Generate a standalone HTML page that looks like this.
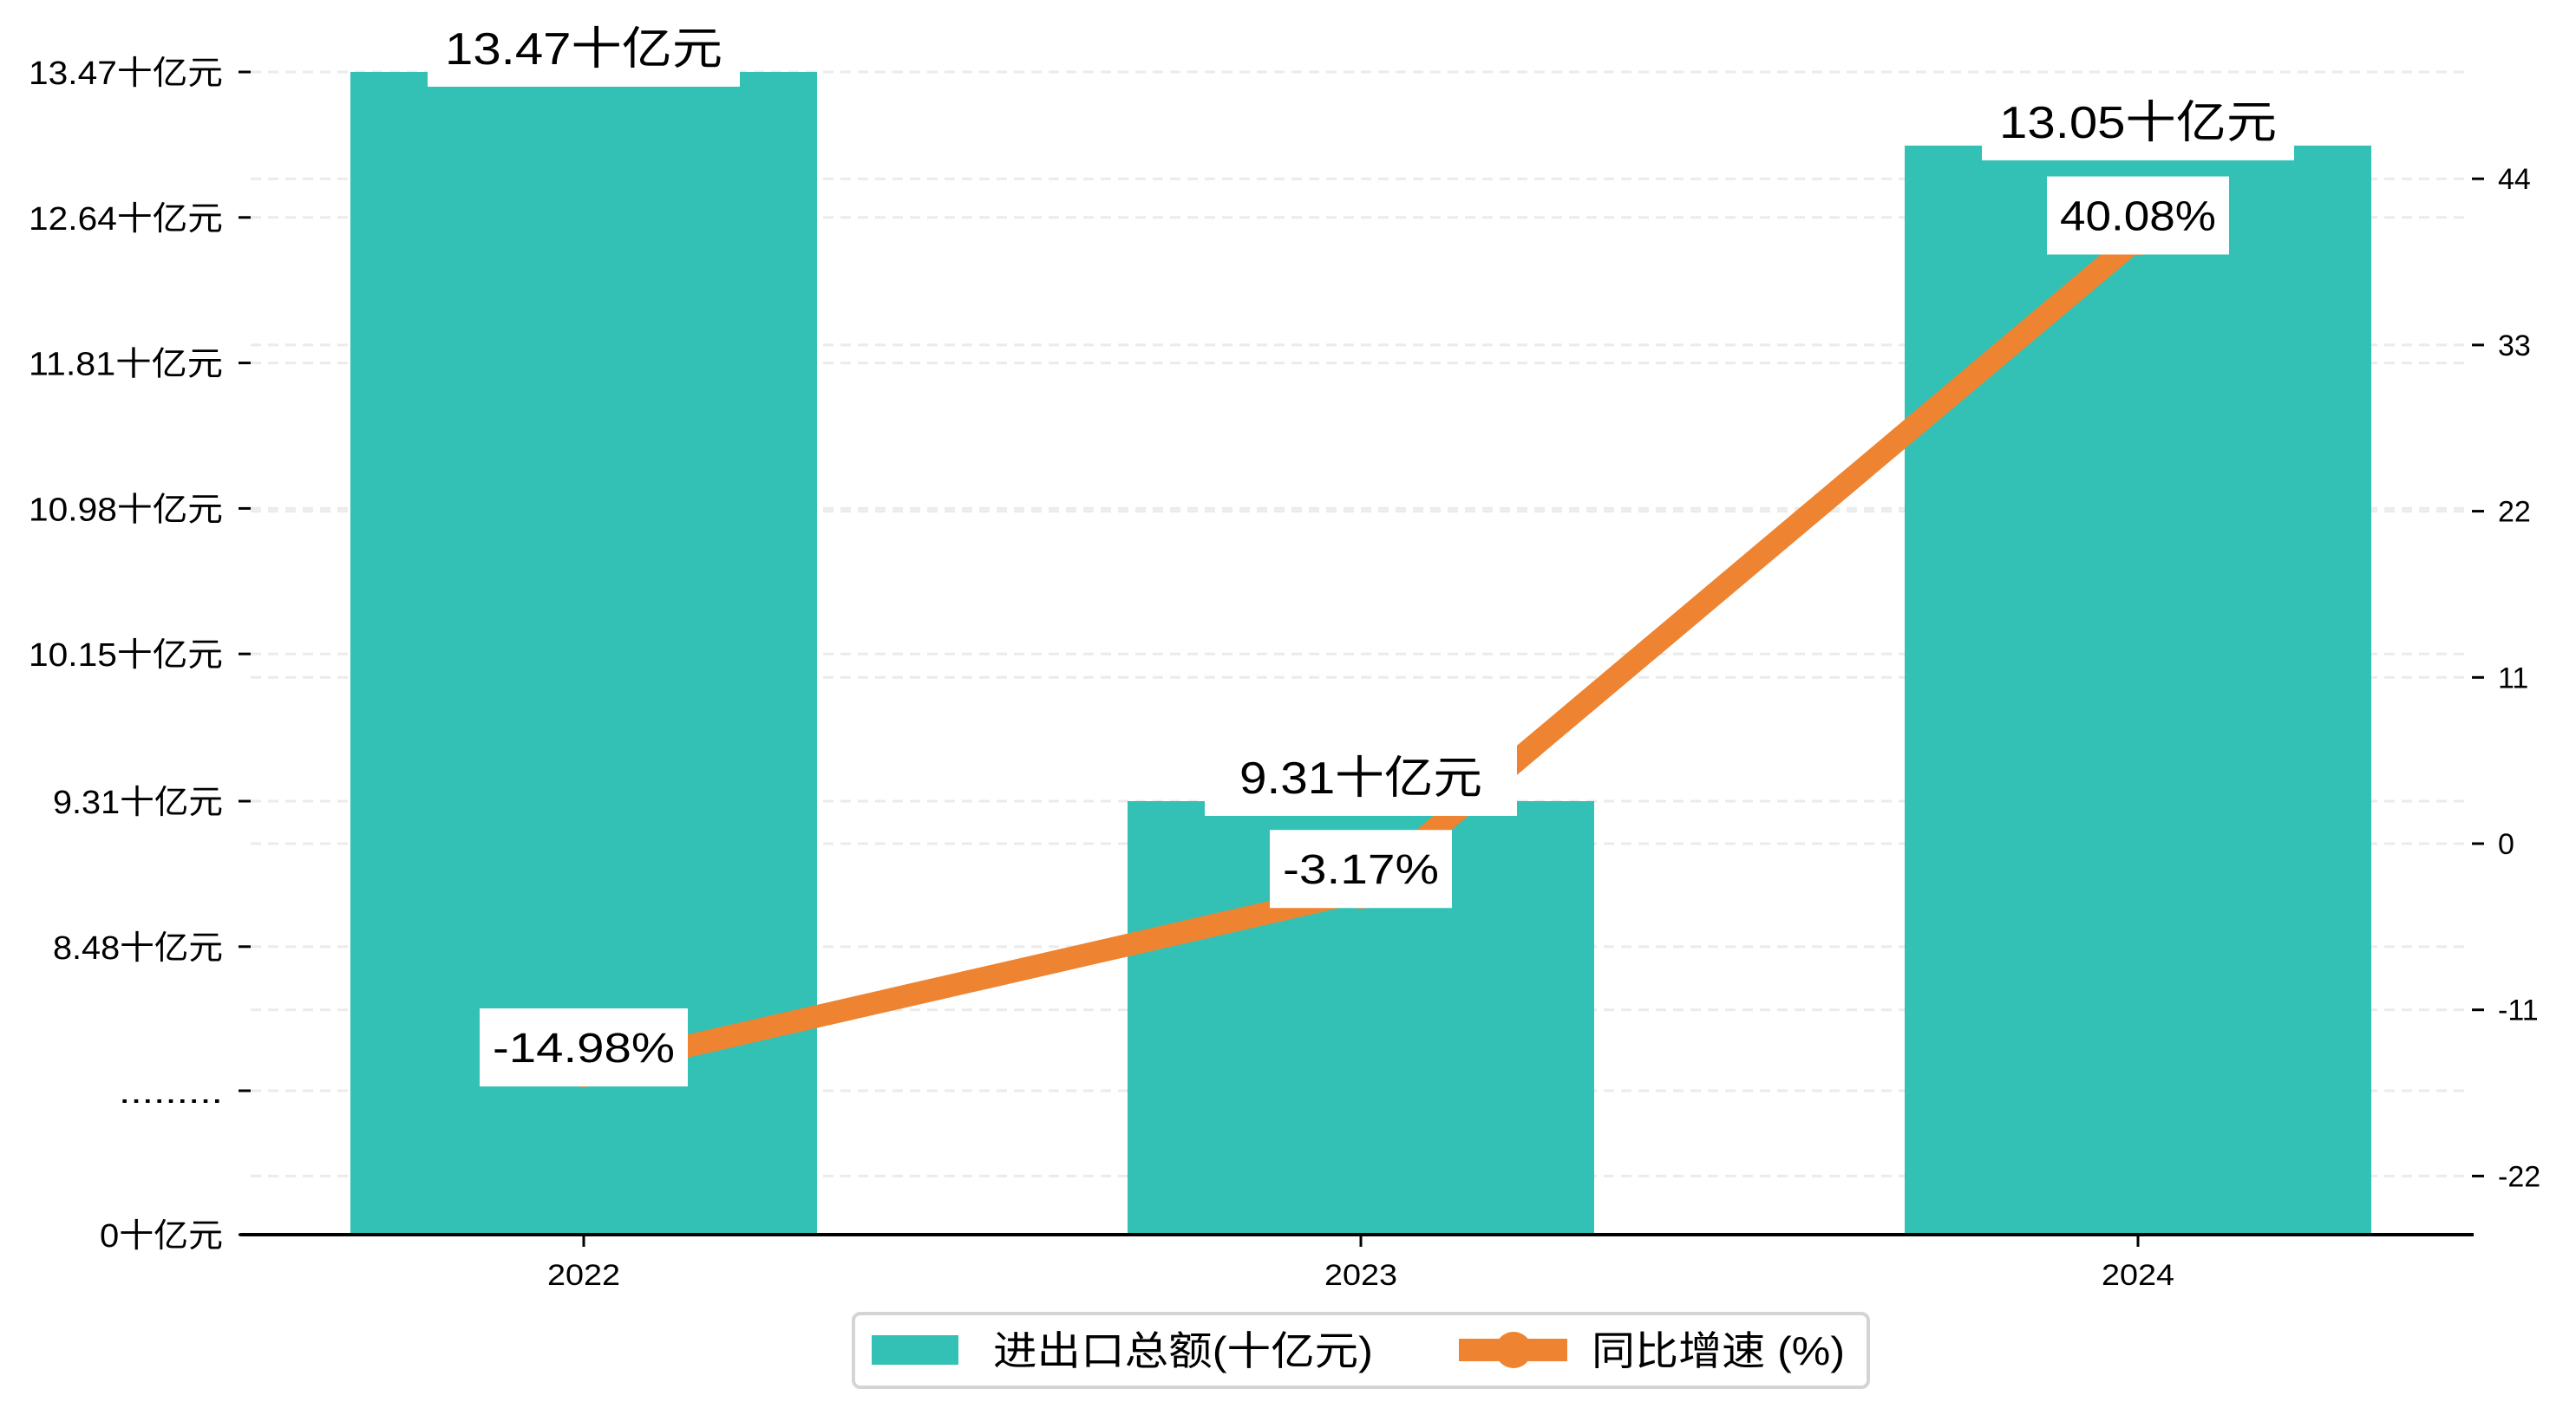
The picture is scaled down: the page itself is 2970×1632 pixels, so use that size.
<!DOCTYPE html>
<html><head><meta charset="utf-8">
<style>
html,body{margin:0;padding:0;background:#fff;}
svg{display:block;font-family:"Liberation Sans","Noto Sans CJK SC",sans-serif;}
</style></head>
<body>
<svg id="chart" width="2970" height="1632" viewBox="0 0 2970 1632" xmlns="http://www.w3.org/2000/svg"></svg>
<script>
const categories = ["2022", "2023", "2024"];
const totals = [13.47, 9.31, 13.05];
const growth = [-14.98, -3.17, 40.08];
const leftTickValues = [13.47, 12.64, 11.81, 10.98, 10.15, 9.31, 8.48];
const leftTickLabels = ["13.47十亿元","12.64十亿元","11.81十亿元","10.98十亿元","10.15十亿元","9.31十亿元","8.48十亿元"];
const rightTicks = [44, 33, 22, 11, 0, -11, -22];

const NS = "http://www.w3.org/2000/svg";
const svg = document.getElementById("chart");
function mk(tag, attrs, parent) {
  const e = document.createElementNS(NS, tag);
  for (const k in attrs) e.setAttribute(k, attrs[k]);
  (parent || svg).appendChild(e);
  return e;
}
const plotL = 289, plotR = 2848, baseY = 1424;
const barW = 538;
function xPos(i) { return 673 + i * 896; }
function yLeft(v) { return 83 + (13.47 - v) * (167.8 / 0.83); }
function yRight(v) { return 973 - v * (191.7 / 11); }

// grid
leftTickValues.forEach(v => {
  const g = mk("line", {x1: plotL, x2: plotR, y1: yLeft(v), y2: yLeft(v), stroke: "#ebebeb", "stroke-width": 3, "stroke-dasharray": "12,8"});
  
  
});
const gb = mk("line", {x1: plotL, x2: plotR, y1: 1258, y2: 1258, stroke: "#ebebeb", "stroke-width": 3, "stroke-dasharray": "12,8"});


rightTicks.forEach(v => {
  const g = mk("line", {x1: plotL, x2: plotR, y1: yRight(v), y2: yRight(v), stroke: "#ebebeb", "stroke-width": 3, "stroke-dasharray": "12,8"});
  
  
});

// bars
totals.forEach((v, i) => {
  const y = yLeft(v);
  const r = mk("rect", {x: xPos(i) - barW/2, y: y, width: barW, height: baseY - y, fill: "#32c1b4"});
  
  
});

// line
const pts = growth.map((v, i) => xPos(i) + "," + yRight(v)).join(" ");
const pl = mk("polyline", {points: pts, fill: "none", stroke: "#ee8432", "stroke-width": 26, "stroke-linejoin": "round"});


growth.forEach((v, i) => {
  const c = mk("circle", {cx: xPos(i), cy: yRight(v), r: 20, fill: "#ee8432"});
  
  
});

// bar labels
totals.forEach((v, i) => {
  const cy = yLeft(v) - 27;
  const b = mk("rect", {x: xPos(i) - 180, y: cy - 40, width: 360, height: 84, fill: "#fff"});
  
  
  const s = v.toFixed(2) + "十亿元";
  const t = mk("text", {x: xPos(i), y: cy + 18, "text-anchor": "middle", "font-size": 52, fill: "#000", textLength: s.length * 40, lengthAdjust: "spacingAndGlyphs"});
  t.textContent = s;
  
  
});
// growth labels
growth.forEach((v, i) => {
  const cy = yRight(v) - 26;
  const s = v.toFixed(2) + "%";
  const w = s.length * 30 + 30;
  const b = mk("rect", {x: xPos(i) - w/2, y: cy - 45, width: w, height: 90, fill: "#fff"});
  
  
  const t = mk("text", {x: xPos(i), y: cy + 17, "text-anchor": "middle", "font-size": 48, fill: "#000", textLength: s.length * 30, lengthAdjust: "spacingAndGlyphs"});
  t.textContent = s;
  
  
});

// left axis ticks
leftTickValues.forEach((v, i) => {
  const y = yLeft(v);
  const tk = mk("line", {x1: 275, x2: 289, y1: y, y2: y, stroke: "#000", "stroke-width": 3});
  
  
  const t = mk("text", {x: 257, y: y + 14, "text-anchor": "end", "font-size": 38, fill: "#000", textLength: leftTickLabels[i].length * 28, lengthAdjust: "spacingAndGlyphs"});
  t.textContent = leftTickLabels[i];
  
  
});
[[1258, ".........", 120], [baseY, "0十亿元", 142]].forEach(([y, s, w]) => {
  const tk = mk("line", {x1: 275, x2: 289, y1: y, y2: y, stroke: "#000", "stroke-width": 3});
  
  
  const t = mk("text", {x: 257, y: y + 14, "text-anchor": "end", "font-size": 38, fill: "#000", textLength: w, lengthAdjust: "spacingAndGlyphs"});
  t.textContent = s;
  
  
});

// right axis ticks
rightTicks.forEach(v => {
  const y = yRight(v);
  const tk = mk("line", {x1: 2850, x2: 2864, y1: y, y2: y, stroke: "#000", "stroke-width": 3});
  
  
  const t = mk("text", {x: 2880, y: y + 12, "text-anchor": "start", "font-size": 34, fill: "#000"});
  t.textContent = String(v);
  
  
});

// x axis
const ax = mk("line", {x1: 277, x2: 2852, y1: baseY, y2: baseY, stroke: "#000", "stroke-width": 4});


categories.forEach((c, i) => {
  const tk = mk("line", {x1: xPos(i), x2: xPos(i), y1: baseY, y2: baseY + 14, stroke: "#000", "stroke-width": 3});
  
  
  const t = mk("text", {x: xPos(i), y: 1482, "text-anchor": "middle", "font-size": 34, fill: "#000", textLength: 84, lengthAdjust: "spacingAndGlyphs"});
  t.textContent = c;
  
  
});

// legend
const lg = mk("g", {});


const lb = mk("rect", {x: 984, y: 1515, width: 1170, height: 85, rx: 8, fill: "#fff", stroke: "#d4d4d4", "stroke-width": 4}, lg);


const lp1 = mk("rect", {x: 1005, y: 1540, width: 100, height: 34, fill: "#32c1b4"}, lg);


const lt1 = mk("text", {x: 1145, y: 1574, "font-size": 46, fill: "#000", textLength: 438, lengthAdjust: "spacingAndGlyphs"}, lg);
lt1.textContent = "进出口总额(十亿元)";


const lp2 = mk("line", {x1: 1682, x2: 1807, y1: 1557, y2: 1557, stroke: "#ee8432", "stroke-width": 26}, lg);


const lc = mk("circle", {cx: 1745, cy: 1557, r: 21, fill: "#ee8432"}, lg);


const lt2 = mk("text", {x: 1835, y: 1574, "font-size": 46, fill: "#000", textLength: 292, lengthAdjust: "spacingAndGlyphs"}, lg);
lt2.textContent = "同比增速 (%)";


</script>
</body></html>
